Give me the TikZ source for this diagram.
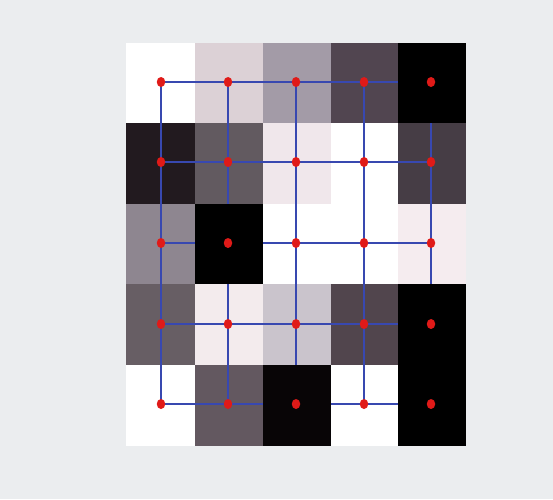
\documentclass[tikz,border=0pt]{standalone}
\definecolor{bgcol}{HTML}{EBEDEF}
\definecolor{linecol}{HTML}{3848B0}
\definecolor{dotcol}{HTML}{E01A18}
\definecolor{nearblack}{HTML}{080506}
\tikzset{
  gridline/.style={draw=linecol, line width=1.1pt},
  dotnode/.style={ellipse, fill=dotcol, inner sep=0pt, minimum width=8.5pt, minimum height=10pt}
}
\usetikzlibrary{shapes.geometric}
\begin{document}
\begin{tikzpicture}[x=1pt,y=-1pt]
\useasboundingbox (0,0) rectangle (553,499);
\fill[bgcol] (0,0) rectangle (553,499);
\def\xs{{126,195,263,331,398,466}}
\def\ys{{43,123,204,284,365,446}}
\def\dx{{161,228,296,364,431}}
\def\dy{{82,162,243,324,404}}
% cells
\foreach \r/\c/\hx in {
 1/1/FFFFFF,1/2/DCD1D6,1/3/A39BA7,1/4/514550,1/5/000000,
 2/1/221A1F,2/2/625A60,2/3/F0E7EB,2/4/FFFFFF,2/5/463D45,
 3/1/8E8690,3/2/000000,3/3/FFFFFF,3/4/FFFFFF,3/5/F5ECEF,
 4/1/675E64,4/2/F3EBED,4/3/CAC4CC,4/4/51454D,4/5/000000,
 5/1/FFFFFF,5/2/635860,5/3/080506,5/4/FFFFFF,5/5/000000}{
  \definecolor{tmpcol}{HTML}{\hx}
  \pgfmathsetmacro{\xa}{\xs[\c-1]}
  \pgfmathsetmacro{\xb}{\xs[\c]}
  \pgfmathsetmacro{\ya}{\ys[\r-1]}
  \pgfmathsetmacro{\yb}{\ys[\r]}
  \fill[tmpcol] (\xa,\ya) rectangle (\xb,\yb);
}
% dot positions
\foreach \r in {1,...,5}{
  \foreach \c in {1,...,5}{
    \pgfmathsetmacro{\px}{\dx[\c-1]}
    \pgfmathsetmacro{\py}{\dy[\r-1]}
    \coordinate (p\r\c) at (\px,\py);
  }
}
% grid lines
\foreach \r in {1,...,5}{
  \foreach \c/\n in {1/2,2/3,3/4,4/5}{
    \draw[gridline] (p\r\c) -- (p\r\n);
    \draw[gridline] (p\c\r) -- (p\n\r);
  }
}
% black cells cover the lines
\fill[black] (398,43) rectangle (466,123);
\fill[black] (195,204) rectangle (263,284);
\fill[black] (398,284) rectangle (466,446);
\fill[nearblack] (263,365) rectangle (331,446);
% dots
\foreach \r in {1,...,5}{
  \foreach \c in {1,...,5}{
    \node[dotnode] (d\r\c) at (p\r\c) {};
  }
}
\end{tikzpicture}
\end{document}
